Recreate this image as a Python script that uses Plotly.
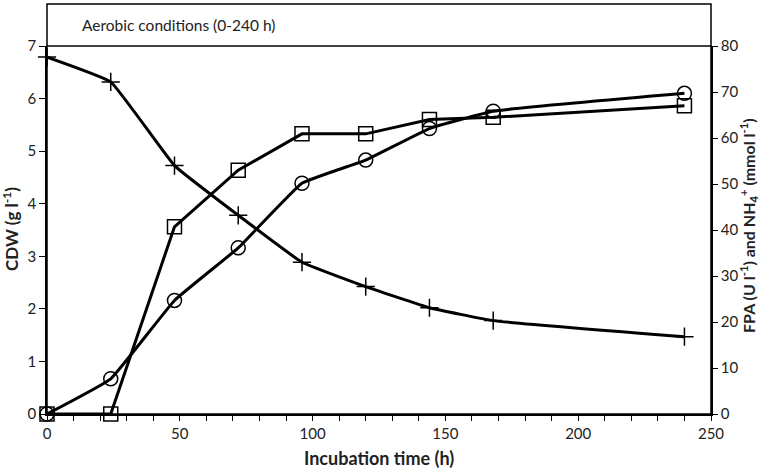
import plotly.graph_objects as go

time_h = [0, 24, 48, 72, 96, 120, 144, 168, 240]
cdw_g_l = [0.0, 0.67, 2.16, 3.16, 4.39, 4.83, 5.43, 5.76, 6.10]
fpa_u_l = [0.0, 0.0, 40.7, 53.0, 60.9, 60.9, 64.0, 64.5, 67.0]
nh4_mmol_l = [77.6, 72.2, 54.0, 43.2, 33.0, 27.7, 23.1, 20.3, 16.8]

x_ticks = [0, 50, 100, 150, 200, 250]
left_ticks = [0, 1, 2, 3, 4, 5, 6, 7]
right_ticks = [0, 10, 20, 30, 40, 50, 60, 70, 80]

FONT = "Lato, Open Sans, sans-serif"
top = 368 / 410

fig = go.Figure()
fig.add_trace(go.Scatter(
    x=time_h, y=cdw_g_l, mode="lines+markers", name="CDW",
    line=dict(color="black", width=3, shape="spline", smoothing=0.3),
    marker=dict(symbol="circle-open", size=14, color="black", line=dict(width=1.5)),
    yaxis="y", cliponaxis=False))
fig.add_trace(go.Scatter(
    x=time_h, y=fpa_u_l, mode="lines+markers", name="FPA",
    line=dict(color="black", width=3),
    marker=dict(symbol="square-open", size=14, color="black", line=dict(width=1.5)),
    yaxis="y2", cliponaxis=False))
fig.add_trace(go.Scatter(
    x=time_h, y=nh4_mmol_l, mode="lines+markers", name="NH4+",
    line=dict(color="black", width=3, shape="spline", smoothing=0.3),
    marker=dict(symbol="cross-thin-open", size=13, color="black", line=dict(width=1.5)),
    yaxis="y2", cliponaxis=False))

tickfont = dict(family=FONT, size=15, color="#222")

def tfont(size):
    return dict(family=FONT, size=size, color="#222", weight="bold")

fig.update_layout(
    width=761, height=468,
    margin=dict(l=47, r=50, t=4, b=54),
    plot_bgcolor="white", paper_bgcolor="white",
    showlegend=False,
    xaxis=dict(range=[0, 250], tickvals=x_ticks, showgrid=False, zeroline=False,
               automargin=False,
               showline=True, linecolor="black", linewidth=2,
               ticks="outside", ticklen=5, tickcolor="black",
               minor=dict(dtick=10, ticks="outside", ticklen=5, tickcolor="black"),
               tickfont=tickfont),
    yaxis=dict(range=[0, 7], tickvals=left_ticks, domain=[0, top], showgrid=False,
               automargin=False,
               zeroline=False, showline=True, linecolor="black", linewidth=1.5,
               ticks="outside", ticklen=6, tickcolor="black", tickfont=tickfont),
    yaxis2=dict(range=[0, 80], tickvals=right_ticks, domain=[0, top], overlaying="y",
                automargin=False,
                side="right", showgrid=False, zeroline=False, showline=True,
                linecolor="black", linewidth=1.5, ticks="outside", ticklen=5,
                tickcolor="black", tickfont=tickfont),
    shapes=[
        dict(type="rect", xref="paper", yref="paper", x0=0, x1=1, y0=0, y1=1,
             line=dict(color="black", width=1.5)),
        dict(type="line", xref="paper", yref="paper", x0=0, x1=1, y0=top, y1=top,
             line=dict(color="black", width=1.5)),
    ],
    annotations=[
        dict(text="Aerobic conditions (0-240 h)", xref="paper", yref="paper",
             x=33 / 664, y=(1 + top) / 2, xanchor="left", yanchor="middle",
             showarrow=False, font=dict(family=FONT, size=15.5, color="#222")),
        dict(text="Incubation time (h)", xref="paper", yref="paper",
             x=0.5, y=-44 / 410, xanchor="center", yanchor="middle",
             showarrow=False, font=tfont(18)),
        dict(text="CDW (g l<sup>-1</sup>)", xref="paper", yref="paper",
             x=-37 / 664, y=185 / 410, xanchor="center", yanchor="middle", textangle=-90,
             showarrow=False, font=tfont(17)),
        dict(text="FPA (U l<sup>-1</sup>) and NH<sub>4</sub><sup>+</sup> (mmol l<sup>-1</sup>)",
             xref="paper", yref="paper",
             x=1 + 37 / 664, y=188 / 410, xanchor="center", yanchor="middle", textangle=-90,
             showarrow=False, font=tfont(16)),
    ],
)

fig.write_html("out.html", post_script="document.body.style.margin='0';",
               config={"displayModeBar": False})
